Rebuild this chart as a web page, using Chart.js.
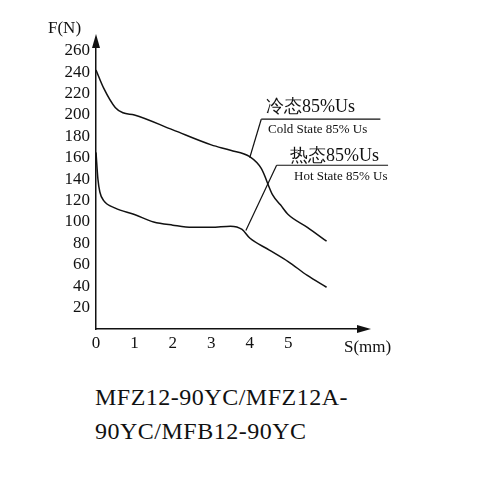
<!DOCTYPE html><html><head><meta charset="utf-8">
<script src="https://cdn.jsdelivr.net/npm/chart.js@4"></script>
<style>body{margin:0;background:#fff;width:480px;height:482px;position:relative;overflow:hidden;font-family:"Liberation Serif",serif;color:#111}
.t{position:absolute;white-space:nowrap}</style></head><body>
<canvas id="c" width="480" height="360" style="position:absolute;left:0;top:0;width:480px;height:360px"></canvas>
<div class="t" style="left:48px;top:18px;font-size:17px">F(N)</div>
<div class="t" style="left:344px;top:337px;font-size:17px">S(mm)</div>
<div class="t" style="left:266px;top:94px;font-size:18px">冷态85%Us</div>
<div class="t" style="left:268px;top:121px;font-size:13px">Cold State 85% Us</div>
<div class="t" style="left:290px;top:143px;font-size:18px">热态85%Us</div>
<div class="t" style="left:294px;top:168px;font-size:13px">Hot State 85% Us</div>
<div class="t" style="left:95px;top:380px;font-size:24px;line-height:34px;letter-spacing:0.5px">MFZ12-90YC/MFZ12A-<br>90YC/MFB12-90YC</div>
<script>
const coldS=[0,0.2,0.5,0.7,1,2,3,3.5,4,4.3,4.6,4.8,5,5.5,6];
const coldF=[242,225,207,202,200,186,172,167,161,150,125,116,107,95,82];
const hotS=[0,0.05,0.1,0.2,0.5,1,1.5,2,2.5,3,3.5,3.8,4,4.5,5,5.5,6];
const hotF=[165,140,128,120,113,107,100,97,95,95,96,93,85,74,63,50,39];
const yTicks=[20,40,60,80,100,120,140,160,180,200,220,240,260];
const xTicks=[0,1,2,3,4,5];
const pts=(s,f)=>s.map((x,i)=>({x,y:f[i]}));
const leaders={id:'lead',afterDraw(ch){const c=ch.ctx,x=ch.scales.x,y=ch.scales.y;c.save();c.strokeStyle='#111';c.lineWidth=1.2;
const seg=(a,b,d,e)=>{c.beginPath();c.moveTo(x.getPixelForValue(a),y.getPixelForValue(b));c.lineTo(x.getPixelForValue(d),y.getPixelForValue(e));c.stroke();};
seg(4,160,4.3,196);seg(4.3,196,7.4,196);seg(3.9,92,4.7,153);seg(4.7,153,7.6,153);
c.fillStyle='#111';const ax=x.getPixelForValue(0),ay=y.getPixelForValue(270),bx=x.getPixelForValue(7),by=y.getPixelForValue(0);
c.beginPath();c.moveTo(ax,ay-6);c.lineTo(ax-4,ay+8);c.lineTo(ax+4,ay+8);c.fill();
c.beginPath();c.moveTo(bx+6,by);c.lineTo(bx-8,by-4);c.lineTo(bx-8,by+4);c.fill();c.restore();}};
new Chart(document.getElementById('c'),{type:'line',data:{datasets:[
{data:pts(coldS,coldF),borderColor:'#111',borderWidth:1.5,pointRadius:0,cubicInterpolationMode:'monotone'},
{data:pts(hotS,hotF),borderColor:'#111',borderWidth:1.5,pointRadius:0,cubicInterpolationMode:'monotone'}]},
options:{responsive:false,animation:false,events:[],layout:{padding:{top:40,right:115,left:0,bottom:0}},
plugins:{legend:{display:false},tooltip:{enabled:false}},
scales:{x:{type:'linear',min:0,max:7,afterFit(s){s.height=31},afterBuildTicks(s){s.ticks=xTicks.map(v=>({value:v}))},
grid:{display:false,tickLength:4},border:{color:'#111',width:1.5},ticks:{color:'#111',font:{family:'Liberation Serif',size:17},padding:0}},
y:{min:0,max:270,afterFit(s){s.width=96},afterBuildTicks(s){s.ticks=yTicks.map(v=>({value:v}))},
grid:{display:false,tickLength:4},border:{color:'#111',width:1.5},ticks:{color:'#111',font:{family:'Liberation Serif',size:17},padding:2}}}},
plugins:[leaders]});
</script></body></html>
